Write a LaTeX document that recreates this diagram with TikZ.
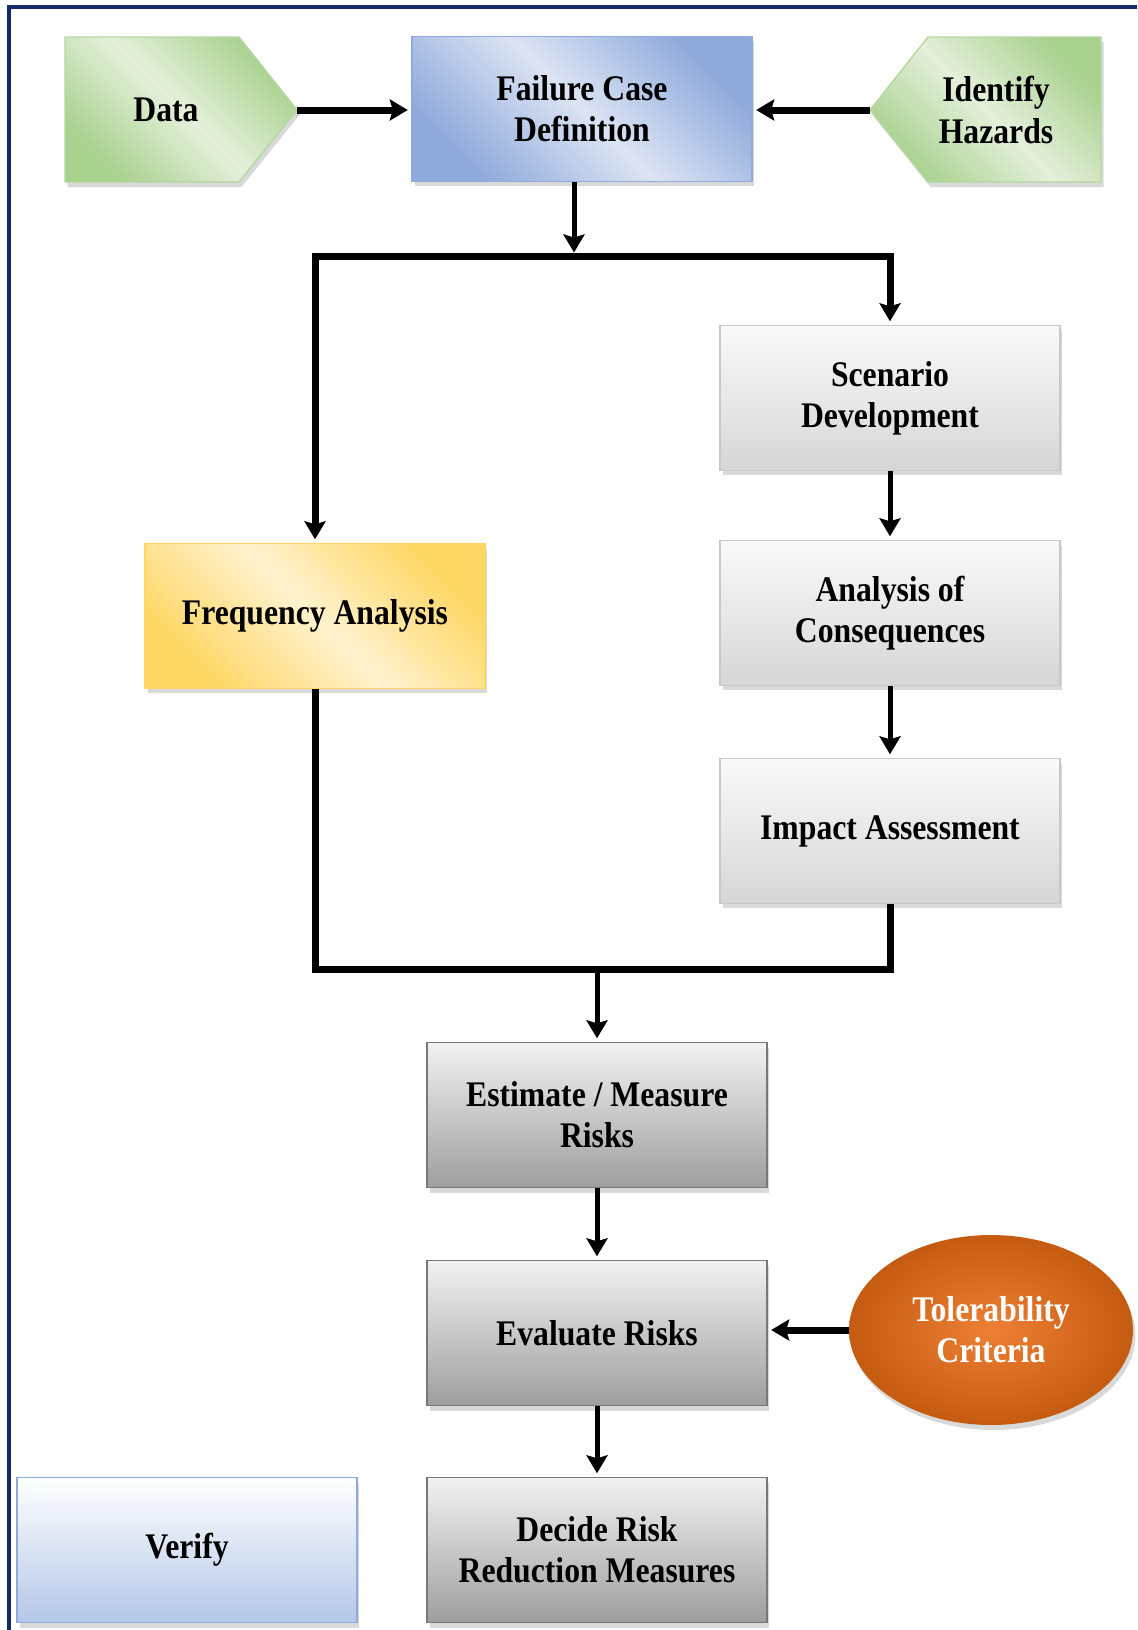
\documentclass[tikz,border=0pt]{standalone}
\usepackage{fontspec}
\setmainfont{Liberation Serif}[FakeStretch=0.88]
\usepackage{tikz}
\usetikzlibrary{arrows.meta, shadows, shapes.geometric, calc, positioning}

\definecolor{frameblue}{RGB}{20,42,102}
\definecolor{greendark}{RGB}{169,209,142}
\definecolor{greenlight}{RGB}{228,240,219}
\definecolor{greenedge}{RGB}{180,215,160}
\definecolor{bluedark}{RGB}{142,169,219}
\definecolor{bluelight}{RGB}{220,228,243}
\definecolor{blueedge}{RGB}{143,170,220}
\definecolor{yellowdark}{RGB}{255,215,100}
\definecolor{yellowlight}{RGB}{255,242,206}
\definecolor{graytop}{RGB}{250,250,250}
\definecolor{graybot}{RGB}{214,214,214}
\definecolor{grayedge}{RGB}{200,200,200}
\definecolor{dgraytop}{RGB}{242,242,242}
\definecolor{dgraybot}{RGB}{158,158,158}
\definecolor{dgrayedge}{RGB}{120,120,120}
\definecolor{verifybot}{RGB}{180,199,231}
\definecolor{orangein}{RGB}{237,128,52}
\definecolor{orangeout}{RGB}{197,90,17}

\begin{document}
\begin{tikzpicture}[x=0.02cm, y=-0.02cm, line join=miter,
    >={Stealth[length=0.36cm, width=0.42cm, inset=0.06cm]},
    boxfont/.style={font=\fontsize{20.5}{23.5}\selectfont\bfseries},
    shadowed/.style={drop shadow={shadow xshift=0.05cm, shadow yshift=-0.1cm, opacity=0.3}},
    diag/.style 2 args={top color=#1, bottom color=#1, middle color=#2, shading angle=-45},
    box/.style={rectangle, boxfont, align=center, minimum width=6.8cm,
        minimum height=2.9cm, line width=0.8pt, shadowed},
    fcdbox/.style={box, draw=blueedge, diag={bluedark}{bluelight}},
    freqbox/.style={box, draw=yellowdark, diag={yellowdark}{yellowlight}},
    litebox/.style={box, draw=grayedge, top color=graytop, bottom color=graybot},
    darkbox/.style={box, draw=dgrayedge, top color=dgraytop, bottom color=dgraybot},
    verifybox/.style={box, draw=blueedge, top color=white, bottom color=verifybot},
    greenshape/.style={draw=greenedge, line width=0.8pt, diag={greendark}{greenlight}, shadowed},
    tolnode/.style={ellipse, boxfont, align=center, text=white, minimum width=5.68cm,
        minimum height=3.8cm, inner color=orangein, outer color=orangeout, shadowed},
    arr/.style={->, line width=0.1cm, shorten >=2pt},
    bigarr/.style={->, line width=0.14cm, shorten >=2pt},
    bar/.style={line width=0.14cm}]

    \useasboundingbox (0,0) rectangle (1137,1630);

    % --- frame ---
    \draw[frameblue, line width=0.08cm] (1137,6.5) -- (9,6.5) -- (9,1630);

    % --- top row ---
    \shade[greenshape] (65,37) -- (239,37) -- (297,110) -- (239,182) -- (65,182) -- cycle;
    \coordinate (datatip) at (297,110);
    \node[boxfont] (data) at (166,110) {Data};

    \shade[greenshape] (1101,37) -- (928,37) -- (870,110) -- (928,182) -- (1101,182) -- cycle;
    \coordinate (haztip) at (870,110);
    \node[boxfont, align=center] (haz) at (996,110) {Identify\\Hazards};

    \node[fcdbox] (fcd) at (582,109) {Failure Case\\Definition};

    \draw[bigarr] (datatip) -- (datatip -| fcd.west);
    \draw[bigarr] (haztip) -- (haztip -| fcd.east);

    % --- split into the two branches ---
    \coordinate (split) at (574,256);
    \node[freqbox] (freq) at (315,616) {Frequency Analysis};
    \node[litebox] (scen) at (890,398) {Scenario\\Development};
    \node[litebox] (cons) at (890,613) {Analysis of\\Consequences};
    \node[litebox] (imp) at (890,831) {Impact Assessment};

    \draw[arr] (fcd.south -| split) -- (split);
    \draw[bar, <->, shorten <=2pt, shorten >=2pt] (freq.north) |- (scen.north |- split) -- (scen.north);
    \draw[arr] (scen) -- (cons);
    \draw[arr] (cons) -- (imp);

    % --- merge and lower column ---
    \coordinate (merge) at (597,969);
    \node[darkbox] (est) at (597,1115) {Estimate / Measure\\Risks};
    \node[darkbox] (eval) at (597,1333) {Evaluate Risks};
    \node[darkbox] (dec) at (597,1550) {Decide Risk\\Reduction Measures};
    \node[verifybox] (ver) at (187,1550) {Verify};
    \node[tolnode] (tol) at (991,1330) {Tolerability\\Criteria};

    \draw[bar] (freq.south) |- (merge) -| (imp.south);
    \draw[arr] (merge) -- (est);
    \draw[arr] (est) -- (eval);
    \draw[arr] (eval) -- (dec);
    \draw[bigarr] (tol.west) -- (tol.west -| eval.east);

\end{tikzpicture}
\end{document}
